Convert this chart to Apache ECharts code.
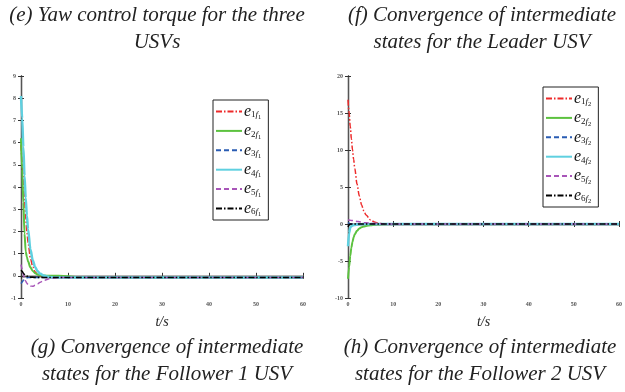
<!DOCTYPE html>
<html>
<head>
<meta charset="utf-8">
<script src="https://cdn.jsdelivr.net/npm/echarts@6/dist/echarts.min.js"></script>
<style>
html,body{margin:0;padding:0;background:#fff;}
#chart{width:625px;height:392px;}
</style>
</head>
<body>
<div id="chart"></div>
<script>
// ---------- data ----------
var titles = [
  '(e) Yaw control torque for the three\nUSVs',
  '(f) Convergence of intermediate\nstates for the Leader USV',
  '(g) Convergence of intermediate\nstates for the Follower 1 USV',
  '(h) Convergence of intermediate\nstates for the Follower 2 USV'
];
var xTicks = [0, 10, 20, 30, 40, 50, 60];
var timeF1 = [0, 0.25, 0.5, 0.75, 1, 1.25, 1.5, 2, 2.5, 3, 3.5, 4, 5, 6, 7, 8, 10, 12, 15, 20, 30, 40, 50, 60];
var namesF1 = ['e1f1', 'e2f1', 'e3f1', 'e4f1', 'e5f1', 'e6f1'];
var e1f1 = [5.9, 5.2, 4.3, 3.4, 2.6, 2.0, 1.5, 0.8, 0.4, 0.18, 0.06, 0.0, -0.06, -0.08, -0.08, -0.08, -0.08, -0.08, -0.08, -0.08, -0.08, -0.08, -0.08, -0.08];
var e2f1 = [6.2, 4.8, 3.3, 1.9, 1.1, 0.85, 0.65, 0.38, 0.22, 0.12, 0.06, 0.03, 0.01, 0.0, 0.0, 0.0, -0.02, -0.06, -0.08, -0.08, -0.08, -0.08, -0.08, -0.08];
var e3f1 = [-0.35, -0.28, -0.2, -0.14, -0.1, -0.09, -0.08, -0.08, -0.08, -0.08, -0.08, -0.08, -0.08, -0.08, -0.08, -0.08, -0.08, -0.08, -0.08, -0.08, -0.08, -0.08, -0.08, -0.08];
var e4f1 = [8.1, 7.1, 5.8, 4.5, 3.5, 2.7, 2.1, 1.2, 0.7, 0.4, 0.22, 0.1, 0.0, -0.05, -0.08, -0.08, -0.08, -0.08, -0.08, -0.08, -0.08, -0.08, -0.08, -0.08];
var e5f1 = [0.5, 0.3, 0.05, -0.12, -0.25, -0.33, -0.4, -0.46, -0.47, -0.43, -0.37, -0.3, -0.2, -0.13, -0.1, -0.08, -0.08, -0.08, -0.08, -0.08, -0.08, -0.08, -0.08, -0.08];
var e6f1 = [0.25, 0.2, 0.12, 0.06, 0.02, -0.01, -0.03, -0.06, -0.07, -0.08, -0.08, -0.08, -0.08, -0.08, -0.08, -0.08, -0.08, -0.08, -0.08, -0.08, -0.08, -0.08, -0.08, -0.08];

var timeF2 = [0, 0.25, 0.5, 0.75, 1, 1.25, 1.5, 2, 2.5, 3, 3.5, 4, 5, 6, 7, 8, 10, 12, 15, 20, 30, 40, 50, 60];
var namesF2 = ['e1f2', 'e2f2', 'e3f2', 'e4f2', 'e5f2', 'e6f2'];
var e1f2 = [16.8, 15.0, 13.2, 11.5, 10.0, 8.7, 7.5, 5.4, 3.8, 2.6, 1.8, 1.2, 0.55, 0.22, 0.08, 0.02, 0, 0, 0, 0, 0, 0, 0, 0];
var e2f2 = [-7.4, -5.8, -4.3, -3.2, -2.4, -1.8, -1.4, -0.9, -0.6, -0.45, -0.35, -0.27, -0.16, -0.1, -0.06, -0.03, 0, 0, 0, 0, 0, 0, 0, 0];
var e3f2 = [0.2, 0.1, 0.03, 0, 0, 0, 0, 0, 0, 0, 0, 0, 0, 0, 0, 0, 0, 0, 0, 0, 0, 0, 0, 0];
var e4f2 = [-3.0, -1.2, -0.5, -0.3, -0.2, -0.15, -0.12, -0.08, -0.05, -0.03, 0, 0, 0, 0, 0, 0, 0, 0, 0, 0, 0, 0, 0, 0];
var e5f2 = [0.55, 0.53, 0.5, 0.48, 0.46, 0.43, 0.4, 0.35, 0.3, 0.25, 0.2, 0.16, 0.1, 0.06, 0.03, 0.01, 0, 0, 0, 0, 0, 0, 0, 0];
var e6f2 = [-0.4, -0.1, 0, 0, 0, 0, 0, 0, 0, 0, 0, 0, 0, 0, 0, 0, 0, 0, 0, 0, 0, 0, 0, 0];

// ---------- styles ----------
var colors = ['#ee2a2a', '#5cc23f', '#2a5cb3', '#5fd0e0', '#a855b8', '#000000'];
var dashes = [[6, 2, 1.5, 2], 'solid', [5, 3], 'solid', [5, 3], [6, 2, 1.5, 2]];
var widths = [1.5, 2, 1.5, 2.5, 1.5, 1.5];
var serif = 'Liberation Serif';

function pairs(t, v) { return t.map(function (x, i) { return [x, v[i]]; }); }

function mkSeries(names, t, vals, idx) {
  return names.map(function (n, k) {
    return {
      name: n, type: 'line', xAxisIndex: idx * 2, yAxisIndex: idx * 2,
      data: pairs(t, vals[k]), showSymbol: false, symbol: 'none',
      smooth: 0.3, smoothMonotone: 'x', clip: true,
      lineStyle: { color: colors[k], width: widths[k], type: dashes[k] },
      itemStyle: { color: colors[k] },
      z: 2 + k
    };
  });
}

var labelStyle = { fontSize: 6, color: '#555', fontFamily: serif, fontWeight: 'bold' };
var lineAx = { lineStyle: { color: '#555', width: 1.3 } };

function xAxes(gi) {
  return [
    { type: 'value', gridIndex: gi, min: 0, max: 60, interval: 10, position: 'bottom',
      axisLine: lineAx, axisTick: { inside: true, length: 3, lineStyle: { color: '#333' } },
      axisLabel: Object.assign({ margin: 3 }, labelStyle), splitLine: { show: false },
      name: 't/s', nameLocation: 'middle', nameGap: 17,
      nameTextStyle: { fontFamily: serif, fontStyle: 'italic', fontSize: 14, color: '#222' } },
    { type: 'value', gridIndex: gi, min: 0, max: 60, interval: 10, position: 'top',
      axisLine: lineAx, axisTick: { inside: true, length: 3, lineStyle: { color: '#333' } },
      axisLabel: { show: false }, splitLine: { show: false } }
  ];
}
function yAxes(gi, mn, mx, iv) {
  return [
    { type: 'value', gridIndex: gi, min: mn, max: mx, interval: iv, position: 'left',
      axisLine: lineAx, axisTick: { inside: true, length: 3, lineStyle: { color: '#333' } },
      axisLabel: Object.assign({ margin: 5 }, labelStyle), splitLine: { show: false } },
    { type: 'value', gridIndex: gi, min: mn, max: mx, interval: iv, position: 'right',
      axisLine: lineAx, axisTick: { inside: true, length: 3, lineStyle: { color: '#333' } },
      axisLabel: { show: false }, splitLine: { show: false } }
  ];
}

function legendFmt(name) {
  return '{e|e}{s|' + name[1] + '}{f|f}{ss|' + name[3] + '}';
}
var legendRich = {
  e: { fontFamily: serif, fontStyle: 'italic', fontSize: 16, color: '#111', lineHeight: 16, padding: [0, 0, 0, 0] },
  s: { fontFamily: serif, fontSize: 9, color: '#111', lineHeight: 9, padding: [7, 0, 0, 0] },
  f: { fontFamily: serif, fontStyle: 'italic', fontSize: 9, color: '#111', lineHeight: 9, padding: [7, 0, 0, 0] },
  ss: { fontFamily: serif, fontSize: 6.5, color: '#111', lineHeight: 7, padding: [12, 0, 0, 0] }
};
function mkLegend(names, left, top) {
  return {
    data: names, orient: 'vertical', left: left, top: top,
    backgroundColor: '#fff', borderColor: '#222', borderWidth: 1,
    padding: [2, 7, 2, 2], itemWidth: 26, itemHeight: 10, itemGap: 0.4,
    formatter: legendFmt, selectedMode: false,
    itemStyle: { opacity: 0 },
    textStyle: { rich: legendRich, padding: [0, 0, 0, -3] }
  };
}

var titleStyle = { fontFamily: serif, fontStyle: 'italic', fontSize: 21, lineHeight: 27, color: '#222', fontWeight: 'normal' };

var option = {
  animation: false,
  backgroundColor: '#fff',
  title: [
    { text: titles[0], left: 157, top: 2, padding: 0, textAlign: 'center', textStyle: titleStyle },
    { text: titles[1], left: 482, top: 2, padding: 0, textAlign: 'center', textStyle: titleStyle },
    { text: titles[2], left: 167, top: 334, padding: 0, textAlign: 'center', textStyle: titleStyle },
    { text: titles[3], left: 480, top: 334, padding: 0, textAlign: 'center', textStyle: titleStyle }
  ],
  grid: [
    { left: 21, top: 76, width: 282, height: 222, containLabel: false },
    { left: 348, top: 76, width: 280, height: 222, containLabel: false }
  ],
  xAxis: xAxes(0).concat(xAxes(1)),
  yAxis: yAxes(0, -1, 9, 1).concat(yAxes(1, -10, 20, 5)),
  legend: [mkLegend(namesF1, 213, 100), mkLegend(namesF2, 543, 87)],
  series: mkSeries(namesF1, timeF1, [e1f1, e2f1, e3f1, e4f1, e5f1, e6f1], 0)
    .concat(mkSeries(namesF2, timeF2, [e1f2, e2f2, e3f2, e4f2, e5f2, e6f2], 1))
};

var chart = echarts.init(document.getElementById('chart'), null, { renderer: 'canvas' });
chart.setOption(option);
</script>
</body>
</html>
